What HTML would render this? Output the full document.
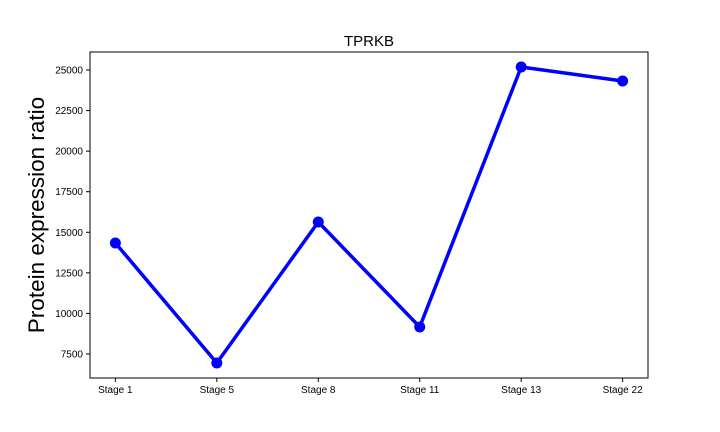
<!DOCTYPE html>
<html><head><meta charset="utf-8"><style>
body{margin:0;background:#fff;}
svg{display:block;font-family:"Liberation Sans","DejaVu Sans",sans-serif;}
</style></head><body>
<svg id="chart" width="720" height="432">
<rect x="90" y="52" width="558" height="326" fill="none" stroke="#000" stroke-width="1"/>
<text x="369" y="46" text-anchor="middle" font-size="15">TPRKB</text>
<text transform="translate(44,215) rotate(-90)" text-anchor="middle" font-size="22.5">Protein expression ratio</text>
<g id="axes"></g>
<g id="marks"></g>
</svg>
<script>
const categories=["Stage 1","Stage 5","Stage 8","Stage 11","Stage 13","Stage 22"];
const values=[14340,6945,15634,9163,25185,24322];
const yTicks=[7500,10000,12500,15000,17500,20000,22500,25000];
const NS="http://www.w3.org/2000/svg";
const px0=90,px1=648,py0=378,py1=52,ymin=6020,ymax=26109;
function xs(i){return px0+(i+0.25)/(categories.length-0.5)*(px1-px0);}
function ys(v){return py0-(v-ymin)/(ymax-ymin)*(py0-py1);}
const axes=document.getElementById('axes'),marks=document.getElementById('marks');
function mk(t,a,p){const e=document.createElementNS(NS,t);for(const k in a)e.setAttribute(k,a[k]);p.appendChild(e);return e;}
categories.forEach((c,i)=>{
 const l=mk('line',{x1:xs(i),x2:xs(i),y1:py0,y2:py0+4,stroke:'#000'},axes);
 
 
 const t=mk('text',{x:xs(i),y:py0+15,'text-anchor':'middle','font-size':10},axes);
 t.textContent=c;
 
 
});
yTicks.forEach(v=>{
 const l=mk('line',{x1:px0-4,x2:px0,y1:ys(v),y2:ys(v),stroke:'#000'},axes);
 
 
 const t=mk('text',{x:px0-7,y:ys(v)+3.5,'text-anchor':'end','font-size':10},axes);
 t.textContent=v;
 
 
});
const pl=mk('polyline',{points:values.map((v,i)=>xs(i)+','+ys(v)).join(' '),fill:'none',stroke:'#0000ff','stroke-width':3.5,'stroke-linejoin':'round'},marks);


values.forEach((v,i)=>{
 const c=mk('circle',{cx:xs(i),cy:ys(v),r:5.5,fill:'#0000ff'},marks);
 
 
});
</script>
</body></html>
